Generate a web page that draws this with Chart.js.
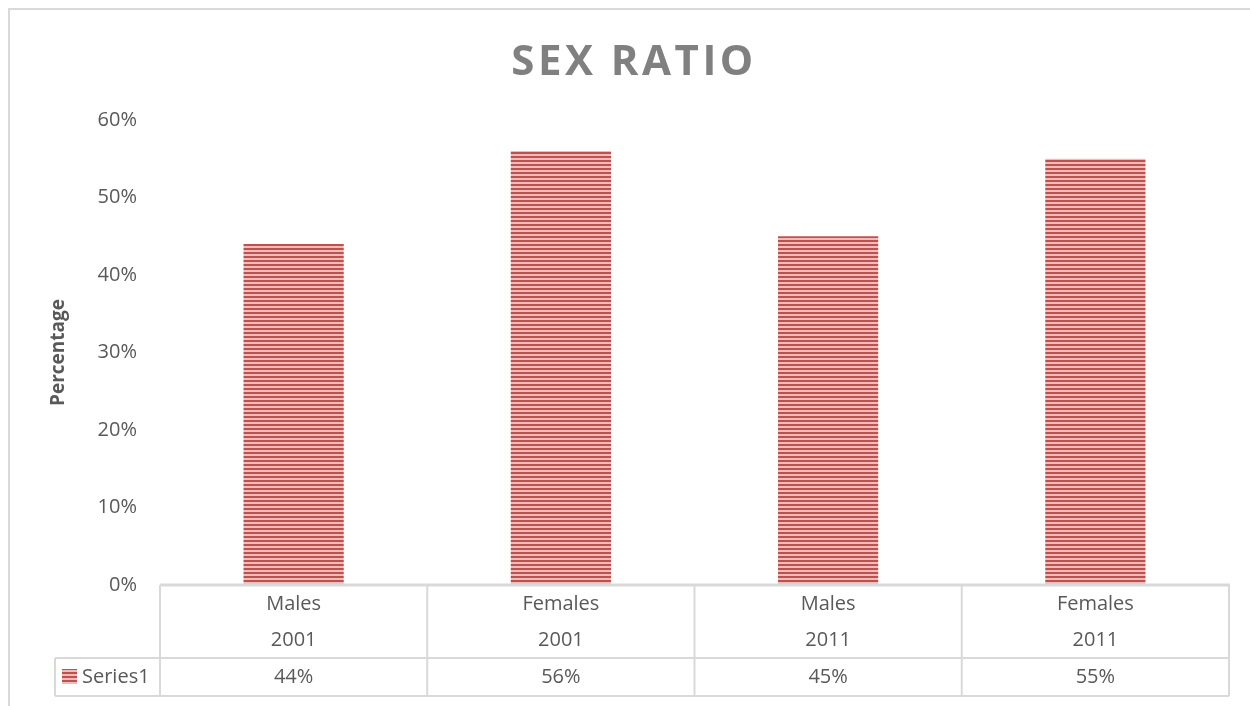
<!DOCTYPE html>
<html>
<head>
<meta charset="utf-8">
<title>Sex Ratio</title>
<script src="https://cdn.jsdelivr.net/npm/chart.js@4.4.1/dist/chart.umd.min.js"></script>
<style>
  html, body { margin: 0; padding: 0; background: #ffffff; overflow: hidden; }
  #wrap { position: relative; width: 1250px; height: 706px; }
</style>
</head>
<body>
<div id="wrap"><canvas id="chart" width="1250" height="706"></canvas></div>
<script>
// Category rows of the data table
const groups = ['Males', 'Females', 'Males', 'Females'];
const years = ['2001', '2001', '2011', '2011'];
// Share of population per category
const sexRatio = [0.44, 0.56, 0.45, 0.55];
// Value axis ticks
const yTicks = [0, 0.1, 0.2, 0.3, 0.4, 0.5, 0.6];
const seriesName = 'Series1';
const chartTitle = 'SEX RATIO';
const axisTitle = 'Percentage';

const FONT = "'Open Sans', 'Noto Sans', sans-serif";
const TEXT = '#595959';
const RULE = '#d9d9d9';

const pct = v => Math.round(v * 100) + '%';

// Horizontal stripe fill used for the bars and the legend key
function stripePattern() {
  const c = document.createElement('canvas');
  c.width = 4; c.height = 4;
  const g = c.getContext('2d');
  g.fillStyle = '#edbdbb';
  g.fillRect(0, 0, 4, 4);
  g.fillStyle = '#c0504d';
  g.fillRect(0, 0, 4, 2);
  return g.createPattern(c, 'repeat');
}
const stripes = stripePattern();

// Frame, title and the data table under the plot
const decorations = {
  id: 'decorations',
  beforeDraw(chart) {
    const ctx = chart.ctx;
    ctx.save();
    ctx.strokeStyle = RULE;
    ctx.lineWidth = 2;
    ctx.strokeRect(9, 9, 1400, 1000);
    ctx.restore();
  },
  afterDraw(chart) {
    const ctx = chart.ctx;
    const area = chart.chartArea;
    const xs = chart.scales.x;
    const n = groups.length;
    const base = chart.scales.y.getPixelForValue(0);

    // title
    ctx.save();
    ctx.fillStyle = '#808080';
    ctx.font = "bold 42px " + FONT;
    ctx.letterSpacing = '3.5px';
    ctx.textAlign = 'center';
    ctx.textBaseline = 'alphabetic';
    ctx.fillText(chartTitle, 634, 75);
    ctx.restore();

    // column boundaries
    const edges = [area.left];
    for (let i = 0; i < n - 1; i++) {
      edges.push((xs.getPixelForValue(i) + xs.getPixelForValue(i + 1)) / 2);
    }
    edges.push(area.right);

    const rowSplit = base + 73;
    const tableBottom = base + 111;
    const legendLeft = area.left - 105;

    ctx.save();
    ctx.strokeStyle = RULE;
    ctx.lineWidth = 2;
    ctx.beginPath();
    edges.forEach(x => { ctx.moveTo(x, base); ctx.lineTo(x, tableBottom); });
    ctx.moveTo(legendLeft, rowSplit); ctx.lineTo(area.right, rowSplit);
    ctx.moveTo(legendLeft, tableBottom); ctx.lineTo(area.right, tableBottom);
    ctx.moveTo(legendLeft, rowSplit); ctx.lineTo(legendLeft, tableBottom);
    ctx.stroke();
    // category axis line
    ctx.lineWidth = 3;
    ctx.beginPath();
    ctx.moveTo(area.left, base); ctx.lineTo(area.right + 1, base);
    ctx.stroke();

    // cell text
    ctx.fillStyle = TEXT;
    ctx.font = "20px " + FONT;
    ctx.textAlign = 'center';
    ctx.textBaseline = 'middle';
    for (let i = 0; i < n; i++) {
      const cx = xs.getPixelForValue(i);
      ctx.fillText(groups[i], cx, base + 19);
      ctx.fillText(years[i], cx, base + 55);
      ctx.fillText(pct(sexRatio[i]), cx, base + 92);
    }
    // legend cell
    ctx.fillStyle = stripes;
    ctx.fillRect(legendLeft + 7, base + 84, 15, 15);
    ctx.fillStyle = TEXT;
    ctx.textAlign = 'left';
    ctx.fillText(seriesName, legendLeft + 27, base + 92);
    ctx.restore();
  }
};

new Chart(document.getElementById('chart'), {
  type: 'bar',
  data: {
    labels: groups.map((g, i) => [g, years[i]]),
    datasets: [{
      label: seriesName,
      data: sexRatio,
      backgroundColor: stripes,
      borderWidth: 0,
      categoryPercentage: 1,
      barPercentage: 0.375
    }]
  },
  options: {
    responsive: false,
    animation: false,
    layout: { padding: { left: 0, right: 21, top: 120, bottom: 121 } },
    plugins: {
      legend: { display: false },
      title: { display: false },
      tooltip: { enabled: false }
    },
    scales: {
      x: {
        display: false
      },
      y: {
        min: 0,
        max: 0.6,
        afterFit(scale) { scale.width = 160; },
        afterBuildTicks(scale) { scale.ticks = yTicks.map(v => ({ value: v })); },
        grid: { display: false, drawTicks: false },
        border: { display: false },
        ticks: {
          padding: 23,
          color: TEXT,
          font: { family: FONT, size: 20 },
          callback: v => pct(v)
        },
        title: {
          display: true,
          text: axisTitle,
          color: TEXT,
          font: { family: FONT, size: 19, weight: 'bold' },
          padding: { top: 47, bottom: 0 }
        }
      }
    }
  },
  plugins: [decorations]
});
</script>
</body>
</html>
